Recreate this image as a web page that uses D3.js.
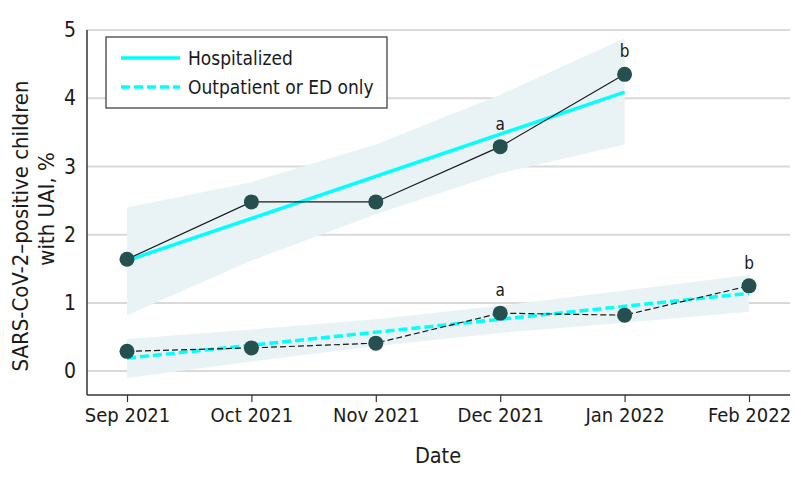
<!DOCTYPE html>
<meta charset='utf-8'>
<style>
	body { margin: 0; background: #fff; }
	svg text { font-family: "DejaVu Sans Condensed", "Liberation Sans Narrow", "DejaVu Sans", sans-serif; font-stretch: condensed; fill: #1a1a1a; }
	.grid line { stroke: #d9d9d9; stroke-width: 2px; }
	.band { fill: #e9f3f5; }
	.fit { fill: none; stroke: #00ffff; stroke-width: 3.5px; }
	.obs { fill: none; stroke: #1a1a1a; stroke-width: 1.2px; }
	.dot { fill: #26504f; }
</style>
<div class="chart"></div>
<script src="https://d3js.org/d3.v7.min.js"></script>
<script>
	// months on the x axis
	var months = ["Sep 2021", "Oct 2021", "Nov 2021", "Dec 2021", "Jan 2022", "Feb 2022"];
	var yTicks = [0, 1, 2, 3, 4, 5];

	// hospitalized (Sep - Jan)
	var hospObs = [1.64, 2.48, 2.48, 3.29, 4.35];
	var hospFit = [1.62, 2.24, 2.86, 3.47, 4.09];
	var hospLo = [0.82, 1.62, 2.30, 2.90, 3.32];
	var hospHi = [2.40, 2.77, 3.32, 4.05, 4.88];
	var hospNotes = ["", "", "", "a", "b"];

	// outpatient or ED only (Sep - Feb)
	var outObs = [0.29, 0.34, 0.41, 0.85, 0.82, 1.25];
	var outFit = [0.19, 0.38, 0.57, 0.76, 0.95, 1.14];
	var outLo = [-0.10, 0.14, 0.37, 0.56, 0.71, 0.87];
	var outHi = [0.47, 0.61, 0.76, 0.96, 1.18, 1.41];
	var outNotes = ["", "", "", "a", "", "b"];

	var width = 794, height = 483;
	var margin = {top: 30, right: 4, bottom: 88, left: 87};

	var svg = d3.select(".chart").append("svg")
		.attr("width", width)
		.attr("height", height);

	var x = d3.scaleLinear().domain([0, months.length - 1]).range([127, 749]);
	var y = d3.scaleLinear().domain([-0.35, 5]).range([height - margin.bottom, margin.top]);

	// gridlines
	svg.append("g").attr("class", "grid")
		.selectAll("line").data(yTicks).enter().append("line")
		.attr("x1", margin.left).attr("x2", width - margin.right)
		.attr("y1", function(d) { return y(d); })
		.attr("y2", function(d) { return y(d); });

	function series(obs, fit, lo, hi, notes, dashed) {
		var idx = obs.map(function(d, i) { return i; });
		var area = d3.area()
			.x(function(i) { return x(i); })
			.y0(function(i) { return y(lo[i]); })
			.y1(function(i) { return y(hi[i]); });
		svg.append("path").datum(idx).attr("class", "band").attr("d", area);

		var fitLine = d3.line().x(function(i) { return x(i); }).y(function(i) { return y(fit[i]); });
		var obsLine = d3.line().x(function(i) { return x(i); }).y(function(i) { return y(obs[i]); });

		svg.append("path").datum([0, idx.length - 1]).attr("class", "fit")
			.attr("d", fitLine)
			.style("stroke-dasharray", dashed ? "9,4" : null);

		svg.append("path").datum(idx).attr("class", "obs")
			.attr("d", obsLine)
			.style("stroke-dasharray", dashed ? "6,3" : null);

		svg.append("g").selectAll("circle").data(idx).enter().append("circle")
			.attr("class", "dot")
			.attr("cx", function(i) { return x(i); })
			.attr("cy", function(i) { return y(obs[i]); })
			.attr("r", 7.5);

		svg.append("g").selectAll("text").data(idx.filter(function(i) { return notes[i]; })).enter()
			.append("text")
			.attr("x", function(i) { return x(i); })
			.attr("y", function(i) { return y(obs[i]) - 17; })
			.attr("text-anchor", "middle")
			.style("font-size", "17px")
			.text(function(i) { return notes[i]; });
	}

	series(hospObs, hospFit, hospLo, hospHi, hospNotes, false);
	series(outObs, outFit, outLo, outHi, outNotes, true);

	// axes
	var axisColor = "#333";
	svg.append("line")
		.attr("x1", margin.left).attr("x2", margin.left)
		.attr("y1", margin.top).attr("y2", height - margin.bottom)
		.attr("stroke", axisColor).attr("stroke-width", 1.5);
	svg.append("line")
		.attr("x1", margin.left).attr("x2", width - margin.right)
		.attr("y1", height - margin.bottom).attr("y2", height - margin.bottom)
		.attr("stroke", axisColor).attr("stroke-width", 1.5);

	var xAxis = svg.append("g")
		.attr("transform", "translate(0," + (height - margin.bottom) + ")")
		.call(d3.axisBottom(x).tickValues(d3.range(months.length))
			.tickFormat(function(i) { return months[i]; })
			.tickSize(7).tickPadding(6));
	xAxis.select(".domain").remove();
	xAxis.selectAll(".tick line").attr("stroke", axisColor).attr("stroke-width", 1.2);
	xAxis.selectAll("text").style("font-size", "20px").attr("fill", "#1a1a1a");

	var yAxis = svg.append("g")
		.attr("transform", "translate(" + margin.left + ",0)")
		.call(d3.axisLeft(y).tickValues(yTicks).tickFormat(d3.format("d")).tickSize(0).tickPadding(11));
	yAxis.select(".domain").remove();
	yAxis.selectAll("text").style("font-size", "21px").attr("fill", "#1a1a1a");

	// axis titles
	svg.append("text")
		.attr("x", 438).attr("y", 463)
		.attr("text-anchor", "middle")
		.style("font-size", "21.5px")
		.text("Date");

	svg.append("text")
		.attr("transform", "translate(28,226) rotate(-90)")
		.attr("text-anchor", "middle")
		.style("font-size", "22px")
		.text("SARS-CoV-2–positive children");
	svg.append("text")
		.attr("transform", "translate(54,209) rotate(-90)")
		.attr("text-anchor", "middle")
		.style("font-size", "22px")
		.text("with UAI, %");

	// legend
	var lg = svg.append("g").attr("transform", "translate(106,37)");
	lg.append("rect").attr("width", 281).attr("height", 71)
		.attr("fill", "#fff").attr("stroke", "#333").attr("stroke-width", 1.2);
	var legendItems = [{label: "Hospitalized", dashed: false}, {label: "Outpatient or ED only", dashed: true}];
	legendItems.forEach(function(d, i) {
		var ly = 21 + i * 29;
		lg.append("line").attr("class", "fit")
			.attr("x1", 15).attr("x2", 74).attr("y1", ly).attr("y2", ly)
			.style("stroke-dasharray", d.dashed ? "9,4" : null);
		lg.append("text").attr("x", 82).attr("y", ly).attr("dy", "0.35em")
			.style("font-size", "19px").text(d.label);
	});
</script>
